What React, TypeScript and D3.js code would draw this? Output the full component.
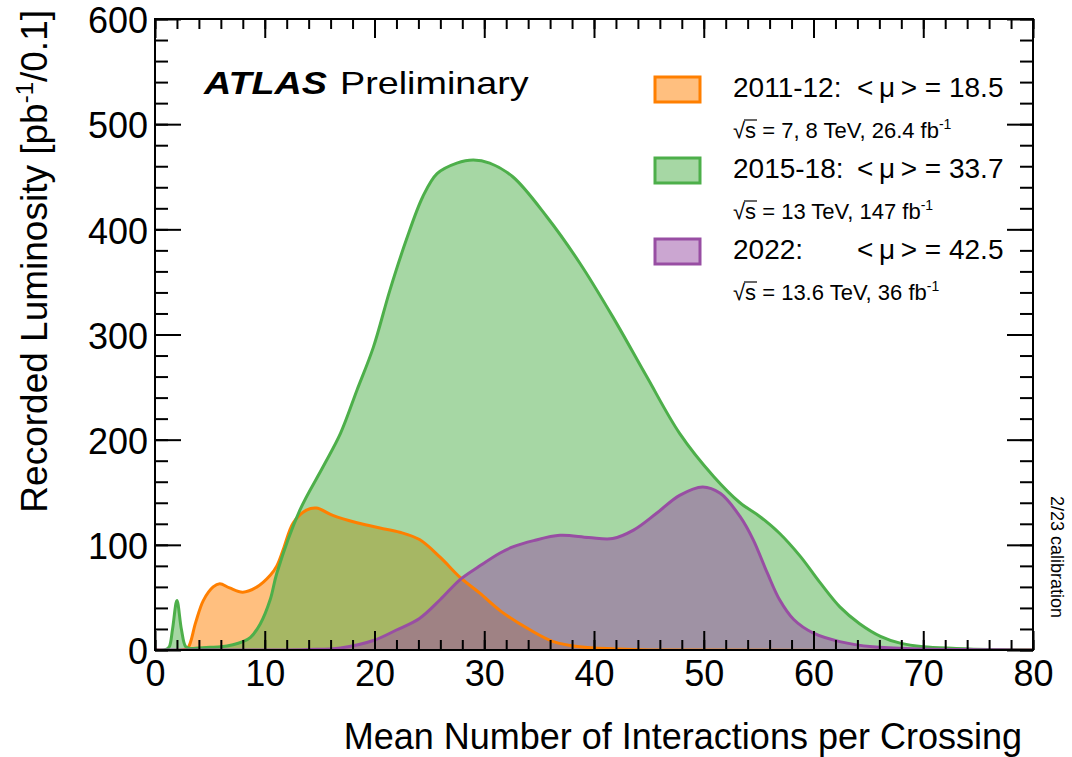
import * as React from "react"
import * as d3 from "d3"

// 2011-12 run
const MU_2011 = [0, 2.5, 3.0, 3.7, 4.4, 5.3, 5.9, 6.8, 8.0, 9.3, 10.5, 11.1, 11.7, 12.6, 13.8, 14.7, 16.2, 18.4, 20.5, 22.3, 24.1, 26.0, 27.8, 29.6, 31.5, 34.2, 36.3, 38.7, 42, 45, 80]
const LUMI_2011 = [0, 0, 2, 26, 47, 60, 63, 59, 55, 60, 71, 80, 96, 121, 133, 135, 128, 121, 116, 112, 105, 88, 69, 54, 37, 19, 8, 3, 1, 0, 0]

// 2015-18 run
const MU_2015 = [0, 1.0, 1.3, 1.6, 2.0, 2.4, 2.8, 3.2, 4, 5, 6, 7.1, 8.0, 8.7, 9.6, 10.5, 11.1, 13.2, 15.3, 16.9, 18.4, 19.9, 21.4, 22.9, 24.4, 25.7, 27.5, 29.0, 30.5, 32.6, 35.7, 38.7, 41.7, 44.8, 47.8, 50.9, 53.3, 55.1, 56.9, 58.8, 60.6, 62.4, 64.2, 66.1, 67.9, 70, 73, 76, 80]
const LUMI_2015 = [0, 0.5, 3, 20, 47, 20, 3, 1.5, 2, 2.5, 3, 5, 8, 12, 25, 48, 73, 133, 174, 206, 247, 288, 342, 390, 431, 453, 463, 466, 463, 450, 412, 368, 317, 260, 206, 165, 140, 127, 111, 89, 64, 41, 25, 13, 6.5, 3, 1.5, 0.5, 0]

// 2022 run
const MU_2022 = [0, 10, 14, 16.9, 19.9, 22, 24.1, 26, 27.8, 29.6, 31.4, 32.6, 34.5, 36.9, 39.5, 41.7, 43.6, 45.7, 47.8, 49.9, 51.5, 53.3, 54.5, 55.8, 56.9, 58.2, 60, 62.4, 65.4, 70, 75, 80]
const LUMI_2022 = [0, 0, 0.5, 2, 9, 19, 30, 48, 67, 80, 92, 98, 104, 109, 107, 106, 114, 130, 147, 155, 149, 127, 105, 73, 48, 29, 16, 8, 3, 1, 0.3, 0]

const LEGEND_LABELS = ["2011-12:", "2015-18:", "2022:"]
const LEGEND_MEANS = ["18.5", "33.7", "42.5"]
const LEGEND_ENERGY = ["7, 8 TeV, 26.4 fb", "13 TeV, 147 fb", "13.6 TeV, 36 fb"]
const COLORS = ["#ff7f00", "#4daf4a", "#984ea3"]

const X_TICKS = [0, 10, 20, 30, 40, 50, 60, 70, 80]
const Y_TICKS = [0, 100, 200, 300, 400, 500, 600]

const FONT = "'Liberation Sans', Arial, Helvetica, sans-serif"

export default function App(): JSX.Element {
    const ref = React.useRef<SVGSVGElement | null>(null)

    React.useEffect(() => {
        const svg = d3.select(ref.current)
        svg.selectAll("*").remove()

        const x = d3.scaleLinear().domain([0, 80]).range([155, 1033])
        const y = d3.scaleLinear().domain([0, 600]).range([650, 19])

        const series = [
            d3.zip(MU_2011, LUMI_2011),
            d3.zip(MU_2015, LUMI_2015),
            d3.zip(MU_2022, LUMI_2022),
        ]

        svg.append("defs").append("clipPath").attr("id", "plot-clip")
            .append("rect")
            .attr("x", x(0)).attr("y", y(600))
            .attr("width", x(80) - x(0)).attr("height", y(0) - y(600))

        const curve = d3.curveCatmullRom.alpha(0.5)

        const area = d3.area<number[]>()
            .x(d => x(d[0]))
            .y0(y(0))
            .y1(d => y(d[1]))
            .curve(curve)

        const line = d3.line<number[]>()
            .x(d => x(d[0]))
            .y(d => y(d[1]))
            .curve(curve)

        const plot = svg.append("g").attr("clip-path", "url(#plot-clip)")

        // fills first, then outlines on top
        series.forEach((s, i) => {
            plot.append("path")
                .attr("d", area(s))
                .attr("fill", COLORS[i])
                .attr("fill-opacity", 0.5)
        })
        series.forEach((s, i) => {
            plot.append("path")
                .attr("d", line(s))
                .attr("fill", "none")
                .attr("stroke", COLORS[i])
                .attr("stroke-width", 3)
                .attr("stroke-linejoin", "round")
        })

        // axes: major ticks with labels, minor without
        const styleAxis = (g: any) => {
            g.select(".domain").remove()
            g.selectAll("line").attr("stroke", "#000").attr("stroke-width", 2)
            g.selectAll("text").attr("font-family", FONT).attr("font-size", 36).attr("fill", "#000")
        }
        const xMinor = d3.range(0, 80.01, 2)
        const yMinor = d3.range(0, 600.01, 20)

        svg.append("g").attr("transform", `translate(0,${y(0)})`)
            .call(d3.axisBottom(x).tickValues(xMinor).tickSize(-10).tickFormat(() => ""))
            .call(styleAxis)
        svg.append("g").attr("transform", `translate(0,${y(0)})`)
            .call(d3.axisBottom(x).tickValues(X_TICKS).tickSize(-19).tickPadding(10).tickFormat(d3.format("d")))
            .call(styleAxis)
        svg.append("g").attr("transform", `translate(0,${y(600)})`)
            .call(d3.axisTop(x).tickValues(xMinor).tickSize(-10).tickFormat(() => ""))
            .call(styleAxis)
        svg.append("g").attr("transform", `translate(0,${y(600)})`)
            .call(d3.axisTop(x).tickValues(X_TICKS).tickSize(-19).tickFormat(() => ""))
            .call(styleAxis)

        svg.append("g").attr("transform", `translate(${x(0)},0)`)
            .call(d3.axisLeft(y).tickValues(yMinor).tickSize(-13).tickFormat(() => ""))
            .call(styleAxis)
        const yAxis = svg.append("g").attr("transform", `translate(${x(0)},0)`)
            .call(d3.axisLeft(y).tickValues(Y_TICKS).tickSize(-26).tickPadding(7).tickFormat(d3.format("d")))
            .call(styleAxis)
        yAxis.selectAll("text").attr("dy", "0.38em")
        svg.append("g").attr("transform", `translate(${x(80)},0)`)
            .call(d3.axisRight(y).tickValues(yMinor).tickSize(-13).tickFormat(() => ""))
            .call(styleAxis)
        svg.append("g").attr("transform", `translate(${x(80)},0)`)
            .call(d3.axisRight(y).tickValues(Y_TICKS).tickSize(-26).tickFormat(() => ""))
            .call(styleAxis)

        // frame
        svg.append("rect")
            .attr("x", x(0)).attr("y", y(600))
            .attr("width", x(80) - x(0)).attr("height", y(0) - y(600))
            .attr("fill", "none").attr("stroke", "#000").attr("stroke-width", 2)

        // axis titles
        svg.append("text")
            .attr("x", 1022).attr("y", 749)
            .attr("text-anchor", "end")
            .attr("font-family", FONT).attr("font-size", 36)
            .text("Mean Number of Interactions per Crossing")

        const yTitle = svg.append("text")
            .attr("transform", "translate(47,10) rotate(-90)")
            .attr("text-anchor", "end")
            .attr("font-family", FONT).attr("font-size", 37)
        yTitle.append("tspan").text("Recorded Luminosity [pb")
        yTitle.append("tspan").attr("dy", -14).attr("font-size", 24).text("-1")
        yTitle.append("tspan").attr("dy", 14).text("/0.1]")

        // ATLAS label (source text is drawn slightly wide)
        const atlas = svg.append("text")
            .attr("transform", "translate(204,94) scale(1.18,1)")
            .attr("font-family", FONT).attr("font-size", 32)
        atlas.append("tspan").attr("font-weight", "bold").attr("font-style", "italic").text("ATLAS")
        atlas.append("tspan").attr("dx", 11).text("Preliminary")

        // legend
        LEGEND_LABELS.forEach((lab, i) => {
            const base = 97 + i * 81
            svg.append("rect")
                .attr("x", 655).attr("y", base - 20)
                .attr("width", 45).attr("height", 25)
                .attr("fill", COLORS[i]).attr("fill-opacity", 0.5)
                .attr("stroke", COLORS[i]).attr("stroke-width", 3)
            svg.append("text")
                .attr("x", 733).attr("y", base)
                .attr("font-family", FONT).attr("font-size", 28)
                .text(lab)
            svg.append("text")
                .attr("x", 857).attr("y", base)
                .attr("font-family", FONT).attr("font-size", 28)
                .text("<\u2009\u03bc\u2009> = " + LEGEND_MEANS[i])

            const sb = base + 41
            const small = svg.append("text")
                .attr("x", 733).attr("y", sb)
                .attr("font-family", FONT).attr("font-size", 22)
            small.append("tspan").text("\u221as = " + LEGEND_ENERGY[i])
            small.append("tspan").attr("dy", -9).attr("font-size", 14).text("-1")
            svg.append("line")
                .attr("x1", 744).attr("x2", 757)
                .attr("y1", sb - 18).attr("y2", sb - 18)
                .attr("stroke", "#000").attr("stroke-width", 1.2)
        })

        // calibration tag
        svg.append("text")
            .attr("transform", "translate(1051,496) rotate(90)")
            .attr("font-family", FONT).attr("font-size", 18)
            .text("2/23 calibration")
    }, [])

    return (
        <svg
            ref={ref}
            width={1072}
            height={757}
            style={{ position: "absolute", left: 0, top: 0, background: "#fff" }}
        />
    )
}
